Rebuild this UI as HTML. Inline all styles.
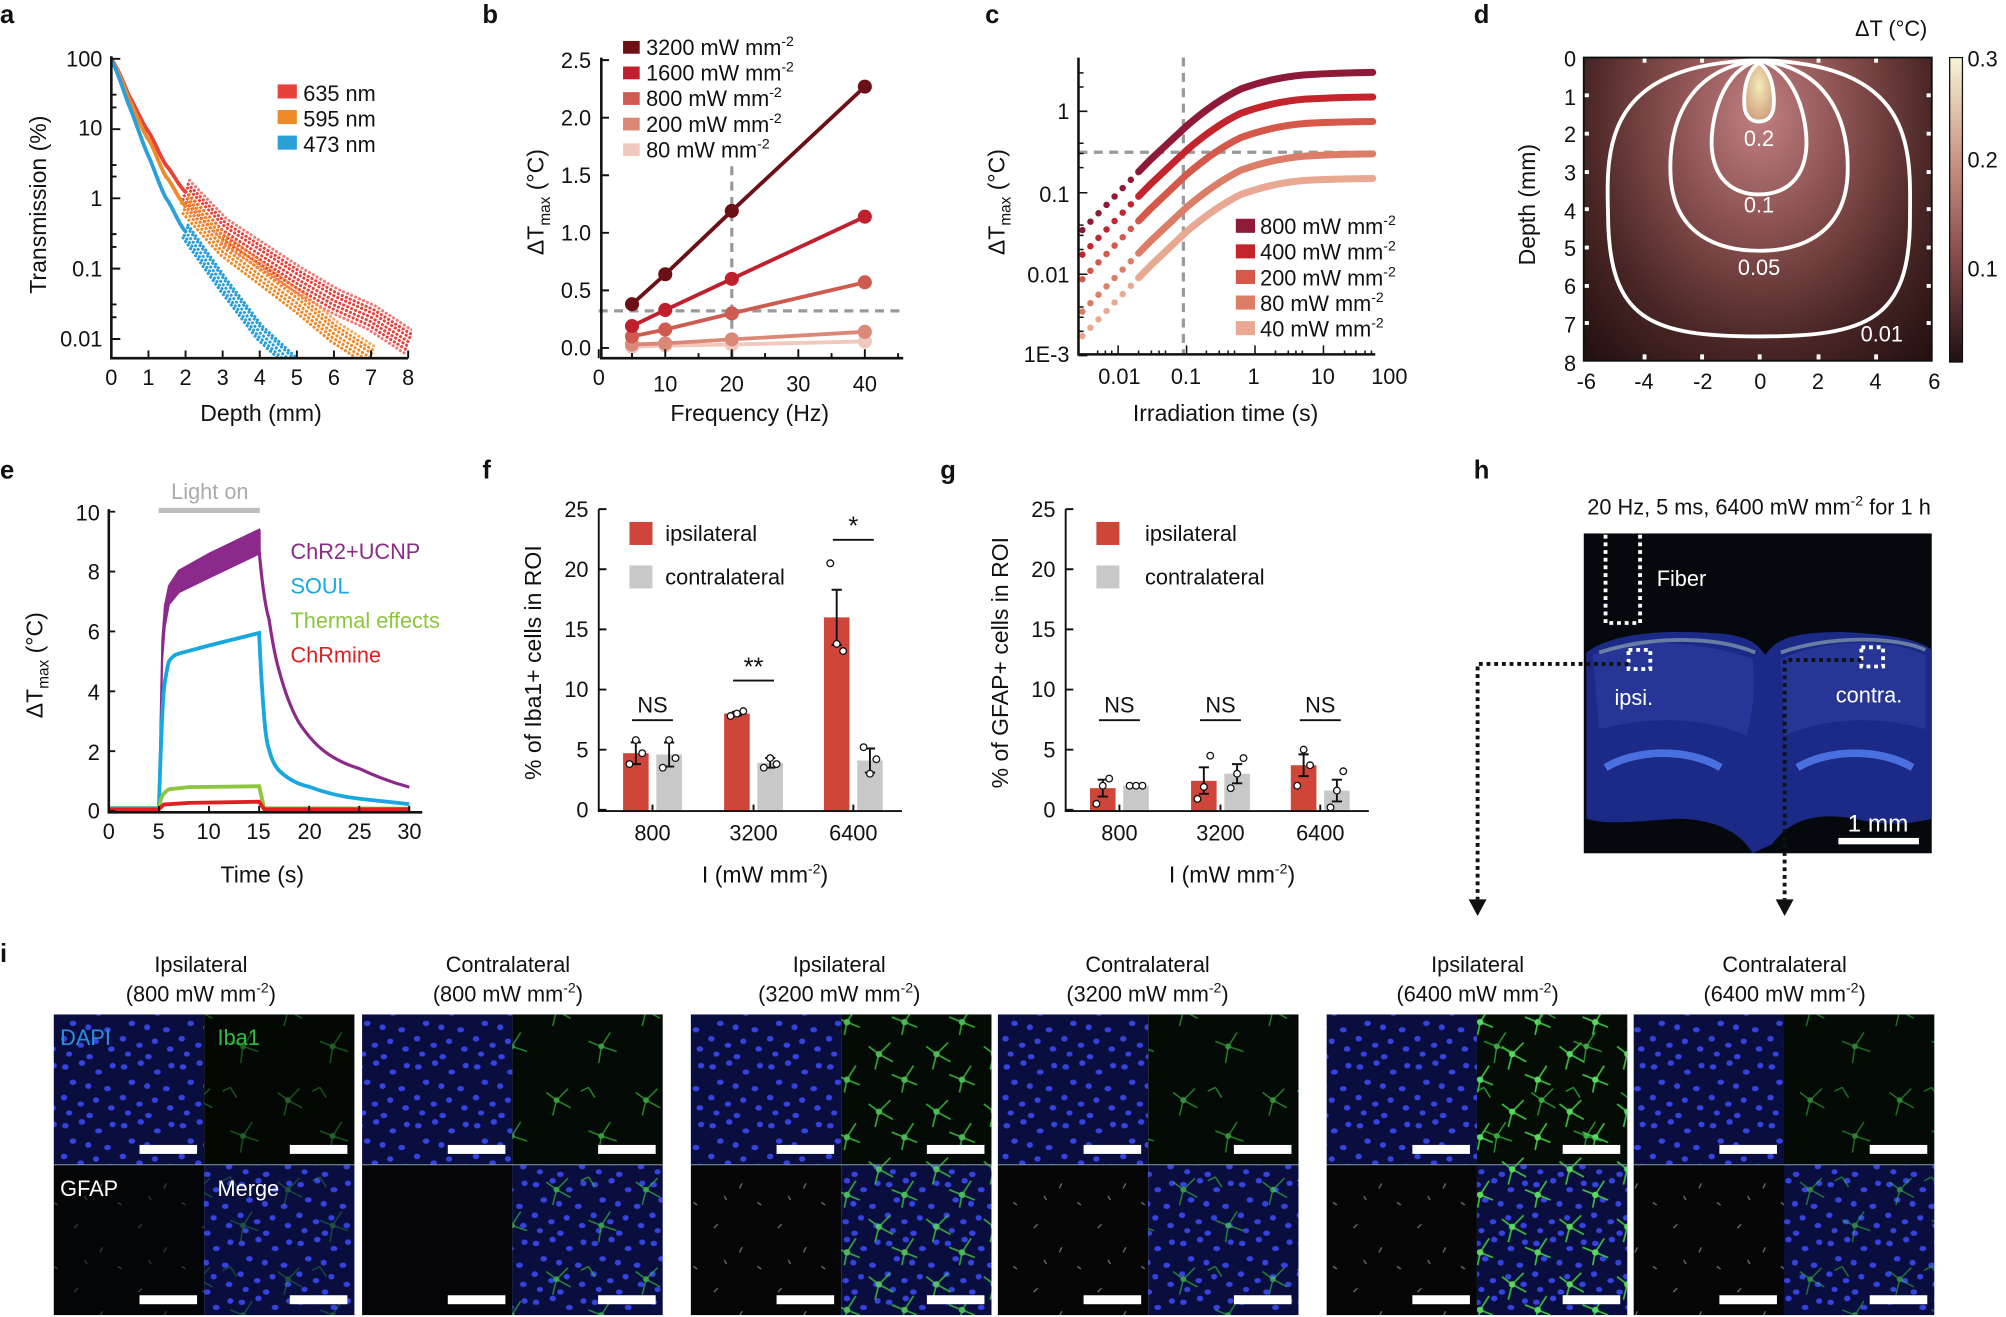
<!DOCTYPE html>
<html><head><meta charset="utf-8"><style>
html,body{margin:0;padding:0;background:#fff;}
svg{display:block;font-family:"Liberation Sans",Arial,sans-serif;}
</style></head><body>
<svg xmlns="http://www.w3.org/2000/svg" xmlns:xlink="http://www.w3.org/1999/xlink" width="2006" height="1317" viewBox="0 0 1568 1029.5">
<defs>
<radialGradient id="hg" cx="1375" cy="90" r="260" gradientUnits="userSpaceOnUse" gradientTransform="translate(1375 90) scale(0.75 1) translate(-1375 -90)">
<stop offset="0" stop-color="#c08080"/><stop offset="0.35" stop-color="#8a5050"/><stop offset="0.7" stop-color="#4a2626"/><stop offset="1" stop-color="#241010"/></radialGradient>
<radialGradient id="tip" cx="0.5" cy="0.4" r="0.6"><stop offset="0" stop-color="#f4ecb8"/><stop offset="1" stop-color="#d0a080"/></radialGradient>
<linearGradient id="cb" x1="0" y1="1" x2="0" y2="0"><stop offset="0" stop-color="#201010"/><stop offset="0.35" stop-color="#8a4c4c"/><stop offset="0.65" stop-color="#c89080"/><stop offset="1" stop-color="#f8f4d8"/></linearGradient>
<clipPath id="clipa"><rect x="87" y="40" width="235" height="240"/></clipPath>
<path id="ra" d="M145 150 L174 180 L203 199 L232 218 L261 235 L290 248 L319 267"/>
<path id="oa" d="M145 161 L174 193 L203 215 L232 237 L261 261 L290 280"/>
<path id="ba" d="M145 181 L174 222 L203 260 L229 284"/>
<pattern id="dapi" width="46" height="46" patternUnits="userSpaceOnUse">
<rect width="46" height="46" fill="#0a0e3e"/>
<g fill="#3444e0"><ellipse cx="5" cy="6" rx="2.6" ry="2.1"/><ellipse cx="18" cy="3" rx="2.5" ry="2.2"/><ellipse cx="31" cy="10" rx="2.7" ry="2"/><ellipse cx="42" cy="5" rx="2.4" ry="2.2"/><ellipse cx="11" cy="18" rx="2.6" ry="2.1"/><ellipse cx="23" cy="21" rx="2.4" ry="2.3"/><ellipse cx="38" cy="23" rx="2.7" ry="2"/><ellipse cx="4" cy="30" rx="2.5" ry="2.2"/><ellipse cx="17" cy="35" rx="2.6" ry="2"/><ellipse cx="29" cy="32" rx="2.4" ry="2.2"/><ellipse cx="41" cy="38" rx="2.6" ry="2.1"/><ellipse cx="8" cy="42" rx="2.4" ry="2"/><ellipse cx="24" cy="44" rx="2.6" ry="2.1"/></g>
</pattern>
<pattern id="iba" width="70" height="70" patternUnits="userSpaceOnUse">
<g stroke="#34b83c" stroke-width="1.1" fill="none"><path d="M15 20l-8 -6M15 20l9 -9M15 20l-3 12M15 20l11 6"/><path d="M50 48l-10 -4M50 48l7 -11M50 48l-2 13M50 48l12 4"/><path d="M40 10l5 8M40 10l-6 3"/></g>
<circle cx="15" cy="20" r="2.3" fill="#4ad050"/><circle cx="50" cy="48" r="2.3" fill="#4ad050"/>
</pattern>
<pattern id="iba2" width="45" height="45" patternUnits="userSpaceOnUse">
<g stroke="#3cc040" stroke-width="1.3" fill="none"><path d="M12 14l-8 -6M12 14l9 -9M12 14l-3 12M12 14l11 6"/><path d="M32 34l-10 -4M32 34l7 -11M32 34l-2 10M32 34l10 4"/></g>
<circle cx="12" cy="14" r="2.5" fill="#5ad860"/><circle cx="32" cy="34" r="2.5" fill="#5ad860"/>
</pattern>
<pattern id="gfap" width="50" height="50" patternUnits="userSpaceOnUse">
<g stroke="#bbb" stroke-width="1" fill="none" opacity="0.6"><path d="M8 10l3 -3M30 25l-2 4M42 40l3 2M18 38l-2 -3"/></g>
</pattern>
</defs>
<g font-size="18" fill="#111">
<g font-weight="bold" font-size="20">
<text x="0" y="18">a</text><text x="377" y="18">b</text><text x="770" y="18">c</text><text x="1152" y="18">d</text>
<text x="0" y="374">e</text><text x="377" y="374">f</text><text x="735" y="374">g</text><text x="1152" y="374">h</text><text x="0" y="752">i</text>
</g>

<!-- Panel a -->
<g clip-path="url(#clipa)" fill="none" stroke-linecap="round">
<path d="M87 46 C95 58 98 70 101.5 76 S112 98 116 103 S126 125 130.5 130 S140 146 145 150" stroke="#e8413c" stroke-width="3"/>
<g stroke="#e8413c" stroke-width="2.4" stroke-dasharray="0.1 3.3">
<use xlink:href="#ra"/><use xlink:href="#ra" transform="translate(1.5,-3)"/><use xlink:href="#ra" transform="translate(-1,3)"/><use xlink:href="#ra" transform="translate(2,-6)"/><use xlink:href="#ra" transform="translate(-2,6)"/><use xlink:href="#ra" transform="translate(3,-9)" opacity="0.7"/><use xlink:href="#ra" transform="translate(-3,9)" opacity="0.7"/>
</g>
<path d="M87 46 C95 60 98 72 101.5 79 S112 104 116 109 S126 134 130.5 139 S140 157 145 161" stroke="#ef8a2a" stroke-width="3"/>
<g stroke="#ef8a2a" stroke-width="2.4" stroke-dasharray="0.1 3.3">
<use xlink:href="#oa"/><use xlink:href="#oa" transform="translate(1.5,-3)"/><use xlink:href="#oa" transform="translate(-1,3)"/><use xlink:href="#oa" transform="translate(2,-6)"/><use xlink:href="#oa" transform="translate(-2,6)"/><use xlink:href="#oa" transform="translate(3,-9)" opacity="0.7"/>
</g>
<path d="M87 46 C95 64 98 76 101.5 84 S112 114 116 122 S126 150 130.5 156 S140 176 145 181" stroke="#2a9fd8" stroke-width="3"/>
<g stroke="#2a9fd8" stroke-width="2.4" stroke-dasharray="0.1 3.3">
<use xlink:href="#ba"/><use xlink:href="#ba" transform="translate(1.5,-3)"/><use xlink:href="#ba" transform="translate(-1,3)"/><use xlink:href="#ba" transform="translate(2,-5)"/><use xlink:href="#ba" transform="translate(-2,5)"/>
</g>
</g>
<g stroke="#111" stroke-width="2" fill="none"><path d="M87 44V280H319"/></g>
<g stroke="#111" stroke-width="1.5"><path d="M87 280v-6M116 280v-6M145 280v-6M174 280v-6M203 280v-6M232 280v-6M261 280v-6M290 280v-6M319 280v-6M87 46h7M87 101h7M87 155h7M87 210h7M87 265h7M87 84h4M87 74h4M87 138h4M87 129h4M87 193h4M87 183h4M87 248h4M87 238h4"/></g>
<g text-anchor="end" font-size="17"><text x="80" y="52">100</text><text x="80" y="106">10</text><text x="80" y="161">1</text><text x="80" y="216">0.1</text><text x="80" y="271">0.01</text></g>
<g text-anchor="middle" font-size="17"><text x="87" y="301">0</text><text x="116" y="301">1</text><text x="145" y="301">2</text><text x="174" y="301">3</text><text x="203" y="301">4</text><text x="232" y="301">5</text><text x="261" y="301">6</text><text x="290" y="301">7</text><text x="319" y="301">8</text></g>
<text transform="translate(36 160) rotate(-90)" text-anchor="middle" font-size="18">Transmission (%)</text>
<text x="204" y="329" text-anchor="middle">Depth (mm)</text>
<rect x="217" y="66" width="15" height="11" fill="#e8413c"/><text x="237" y="79" font-size="17">635 nm</text>
<rect x="217" y="86" width="15" height="11" fill="#ef8a2a"/><text x="237" y="99" font-size="17">595 nm</text>
<rect x="217" y="106" width="15" height="11" fill="#2a9fd8"/><text x="237" y="119" font-size="17">473 nm</text>

<!-- Panel b -->
<g stroke="#999" stroke-width="2.5" stroke-dasharray="7 5" fill="none"><path d="M572 130V280"/><path d="M468 243H706"/></g>
<g fill="none" stroke-width="3">
<polyline points="494,271.1 520,270.2 572,269.3 676,266.9" stroke="#f0c8bc"/>
<polyline points="494,269.3 520,268.4 572,265.3 676,259.4" stroke="#dc8878"/>
<polyline points="494,263 520,257.6 572,245 676,220.7" stroke="#cf5a50"/>
<polyline points="494,254.9 520,242.3 572,218 676,169.4" stroke="#c0202e"/>
<polyline points="494,237.8 520,214.4 572,164.9 676,67.7" stroke="#6b1014"/>
</g>
<g fill="#f0c8bc"><circle cx="494" cy="271.1" r="5.5"/><circle cx="520" cy="270.2" r="5.5"/><circle cx="572" cy="269.3" r="5.5"/><circle cx="676" cy="266.9" r="5.5"/></g>
<g fill="#dc8878"><circle cx="494" cy="269.3" r="5.5"/><circle cx="520" cy="268.4" r="5.5"/><circle cx="572" cy="265.3" r="5.5"/><circle cx="676" cy="259.4" r="5.5"/></g>
<g fill="#cf5a50"><circle cx="494" cy="263" r="5.5"/><circle cx="520" cy="257.6" r="5.5"/><circle cx="572" cy="245" r="5.5"/><circle cx="676" cy="220.7" r="5.5"/></g>
<g fill="#c0202e"><circle cx="494" cy="254.9" r="5.5"/><circle cx="520" cy="242.3" r="5.5"/><circle cx="572" cy="218" r="5.5"/><circle cx="676" cy="169.4" r="5.5"/></g>
<g fill="#6b1014"><circle cx="494" cy="237.8" r="5.5"/><circle cx="520" cy="214.4" r="5.5"/><circle cx="572" cy="164.9" r="5.5"/><circle cx="676" cy="67.7" r="5.5"/></g>
<g stroke="#111" stroke-width="2" fill="none"><path d="M470 45V280H706"/></g>
<g stroke="#111" stroke-width="1.5"><path d="M468 280v-7M494 280v-4M520 280v-7M546 280v-4M572 280v-7M598 280v-4M624 280v-7M650 280v-4M676 280v-7M702 280v-4M470 272h6M470 227h6M470 182h6M470 137h6M470 92h6M470 47h6"/></g>
<g text-anchor="end" font-size="17"><text x="462" y="53">2.5</text><text x="462" y="98">2.0</text><text x="462" y="143">1.5</text><text x="462" y="188">1.0</text><text x="462" y="233">0.5</text><text x="462" y="278">0.0</text></g>
<g text-anchor="middle" font-size="17"><text x="468" y="301">0</text><text x="520" y="306">10</text><text x="572" y="306">20</text><text x="624" y="306">30</text><text x="676" y="306">40</text></g>
<text transform="translate(425 158) rotate(-90)" text-anchor="middle">ΔT<tspan font-size="12" dy="5">max</tspan><tspan dy="-5"> (°C)</tspan></text>
<text x="586" y="329" text-anchor="middle">Frequency (Hz)</text>
<g font-size="17">
<rect x="487" y="32" width="13" height="10" fill="#6b1014"/><text x="505" y="43">3200 mW mm<tspan font-size="11" dy="-7">-2</tspan></text>
<rect x="487" y="52" width="13" height="10" fill="#c0202e"/><text x="505" y="63">1600 mW mm<tspan font-size="11" dy="-7">-2</tspan></text>
<rect x="487" y="72" width="13" height="10" fill="#cf5a50"/><text x="505" y="83">800 mW mm<tspan font-size="11" dy="-7">-2</tspan></text>
<rect x="487" y="92" width="13" height="10" fill="#dc8878"/><text x="505" y="103">200 mW mm<tspan font-size="11" dy="-7">-2</tspan></text>
<rect x="487" y="112" width="13" height="10" fill="#f0c8bc"/><text x="505" y="123">80 mW mm<tspan font-size="11" dy="-7">-2</tspan></text>
</g>

<!-- Panel c -->
<g stroke="#999" stroke-width="2.5" stroke-dasharray="7 5" fill="none"><path d="M925 45V277"/><path d="M843 119H1075"/></g>
<g fill="none" stroke-linecap="round">
<g stroke-width="5" stroke-dasharray="0.1 9">
<polyline points="846,262.8 874,233.6 890,217.2" stroke="#e8a892"/>
<polyline points="846,243.6 874,214.4 890,198" stroke="#dc7d68"/>
<polyline points="846,218.3 874,189.1 890,172.7" stroke="#d5584a"/>
<polyline points="846,199.1 874,169.9 890,153.5" stroke="#c4242c"/>
<polyline points="846,179.9 874,150.7 890,134.3" stroke="#8e1a38"/>
</g>
<g stroke-width="5.5">
<path d="M890 217.2 L899.5 207.5 L927.5 181 Q950 162 970 152 Q995 143 1020 141 Q1045 139.7 1073 139.5" stroke="#e8a892"/>
<path d="M890 198 L899.5 188.3 L927.5 162 Q950 143 970 133 Q995 124 1020 122 Q1045 120.5 1073 120.3" stroke="#dc7d68"/>
<path d="M890 172.7 L899.5 163 L927.5 136.5 Q950 117 970 107.5 Q995 98.5 1020 96.5 Q1045 95.2 1073 95" stroke="#d5584a"/>
<path d="M890 153.5 L899.5 143.8 L927.5 117.5 Q950 98 970 88.5 Q995 79.5 1020 77.5 Q1045 76 1073 75.8" stroke="#c4242c"/>
<path d="M890 134.3 L899.5 124.6 L927.5 98.5 Q950 79 970 69.5 Q995 60.5 1020 58.5 Q1045 57 1073 56.6" stroke="#8e1a38"/>
</g></g>
<g stroke="#111" stroke-width="2" fill="none"><path d="M843 45V277H1075"/></g>
<g stroke="#111" stroke-width="1.2"><path d="M874 277v-7M927.5 277v-7M981 277v-7M1034.5 277v-7M858 277v-3M864 277v-3M869 277v-3M890 277v-3M900 277v-3M906 277v-3M911 277v-3M943 277v-3M953 277v-3M960 277v-3M965 277v-3M997 277v-3M1007 277v-3M1013 277v-3M1018 277v-3M1051 277v-3M1060 277v-3M1067 277v-3M1072 277v-3M843 87h7M843 150.7h7M843 214.4h7M843 278h7M843 68h4M843 57h4M843 131h4M843 120h4M843 112h4M843 195h4M843 184h4M843 176h4M843 259h4M843 248h4M843 240h4"/></g>
<g text-anchor="end" font-size="17"><text x="836" y="93">1</text><text x="836" y="158">0.1</text><text x="836" y="221">0.01</text><text x="836" y="283">1E-3</text></g>
<g text-anchor="middle" font-size="17"><text x="875" y="300">0.01</text><text x="927" y="300">0.1</text><text x="980" y="300">1</text><text x="1034" y="300">10</text><text x="1086" y="300">100</text></g>
<text transform="translate(785 158) rotate(-90)" text-anchor="middle">ΔT<tspan font-size="12" dy="5">max</tspan><tspan dy="-5"> (°C)</tspan></text>
<text x="958" y="329" text-anchor="middle">Irradiation time (s)</text>
<g font-size="17">
<rect x="966" y="171" width="15" height="11" fill="#8e1a38"/><text x="985" y="183">800 mW mm<tspan font-size="11" dy="-7">-2</tspan></text>
<rect x="966" y="191" width="15" height="11" fill="#c4242c"/><text x="985" y="203">400 mW mm<tspan font-size="11" dy="-7">-2</tspan></text>
<rect x="966" y="211" width="15" height="11" fill="#d5584a"/><text x="985" y="223">200 mW mm<tspan font-size="11" dy="-7">-2</tspan></text>
<rect x="966" y="231" width="15" height="11" fill="#dc7d68"/><text x="985" y="243">80 mW mm<tspan font-size="11" dy="-7">-2</tspan></text>
<rect x="966" y="251" width="15" height="11" fill="#e8a892"/><text x="985" y="263">40 mW mm<tspan font-size="11" dy="-7">-2</tspan></text>
</g>

<!-- Panel d -->
<rect x="1238" y="45" width="272" height="237" fill="url(#hg)"/>
<g stroke="#fff" stroke-width="3" fill="none">
<path d="M1375 47 C1250 50 1256 120 1257 170 C1258 250 1290 263 1375 263 C1460 263 1493 250 1493 170 C1493 120 1500 50 1375 47Z"/>
<path d="M1375 47 C1310 55 1304 110 1306 140 C1310 185 1345 196 1375 196 C1405 196 1440 185 1444 140 C1446 110 1440 55 1375 47Z"/>
<path d="M1375 47 C1345 55 1337 95 1338 115 C1340 145 1360 152 1375 152 C1390 152 1410 145 1412 115 C1413 95 1405 55 1375 47Z"/>
</g>
<path d="M1375 49 C1362 58 1363 80 1364 86 C1366 93 1370 95 1375 95 C1380 95 1384 93 1386 86 C1387 80 1388 58 1375 49Z" fill="url(#tip)" stroke="#fff" stroke-width="3"/>
<g fill="#fff" font-size="17" text-anchor="middle"><text x="1375" y="114">0.2</text><text x="1375" y="166">0.1</text><text x="1375" y="215">0.05</text><text x="1471" y="267">0.01</text></g>
<g fill="#fff"><rect x="1284" y="45" width="3" height="4"/><rect x="1329" y="45" width="3" height="4"/><rect x="1374" y="45" width="3" height="4"/><rect x="1420" y="45" width="3" height="4"/><rect x="1465" y="45" width="3" height="4"/>
<rect x="1284" y="277" width="3" height="4"/><rect x="1329" y="277" width="3" height="4"/><rect x="1374" y="277" width="3" height="4"/><rect x="1420" y="277" width="3" height="4"/><rect x="1465" y="277" width="3" height="4"/>
<rect x="1238" y="73" width="4" height="3"/><rect x="1238" y="103" width="4" height="3"/><rect x="1238" y="133" width="4" height="3"/><rect x="1238" y="162" width="4" height="3"/><rect x="1238" y="192" width="4" height="3"/><rect x="1238" y="222" width="4" height="3"/><rect x="1238" y="251" width="4" height="3"/>
<rect x="1506" y="73" width="4" height="3"/><rect x="1506" y="103" width="4" height="3"/><rect x="1506" y="133" width="4" height="3"/><rect x="1506" y="162" width="4" height="3"/><rect x="1506" y="192" width="4" height="3"/><rect x="1506" y="222" width="4" height="3"/><rect x="1506" y="251" width="4" height="3"/></g>
<rect x="1238" y="45" width="272" height="237" fill="none" stroke="#111" stroke-width="1.5"/>
<g text-anchor="end" font-size="17"><text x="1232" y="52">0</text><text x="1232" y="82">1</text><text x="1232" y="111">2</text><text x="1232" y="141">3</text><text x="1232" y="171">4</text><text x="1232" y="200">5</text><text x="1232" y="230">6</text><text x="1232" y="260">7</text><text x="1232" y="290">8</text></g>
<g text-anchor="middle" font-size="17"><text x="1240" y="304">-6</text><text x="1285" y="304">-4</text><text x="1331" y="304">-2</text><text x="1376" y="304">0</text><text x="1421" y="304">2</text><text x="1466" y="304">4</text><text x="1512" y="304">6</text></g>
<text transform="translate(1200 160) rotate(-90)" text-anchor="middle">Depth (mm)</text>
<rect x="1524" y="45" width="10" height="238" fill="url(#cb)" stroke="#111" stroke-width="1"/>
<g font-size="17"><text x="1538" y="52">0.3</text><text x="1538" y="131">0.2</text><text x="1538" y="216">0.1</text></g>
<text x="1450" y="28" font-size="17">ΔT (°C)</text>

<!-- Panel e -->
<path d="M124.2 631.7 L125.5 560 L126.8 500 L128.8 473.5 L132 458 L139.8 446 L163.3 432.8 L202.5 414 L202.5 432.8 L163.3 451.5 L139.8 463 L132 472.5 L128.8 489.6 L126.8 515 L125.5 570 L124.2 631.7Z" fill="#8b2a8a" stroke="#8b2a8a" stroke-width="1.5"/>
<g fill="none" stroke-width="2.5">
<path d="M85 631.7 L124.2 631.7 M202.5 414 L202.5 430 Q206 470 210.3 484.2 Q214 510 218.2 524.5 Q225 550 233.8 565.2 Q245 582 257.3 590 Q268 597 280.8 600.8 Q300 610 319.9 615.3" stroke="#8b2a8a"/>
<path d="M85 631.7 L124.2 631.7 Q125 600 126.9 557 Q128 535 129.6 528.7 Q131 520 132 517 Q135 512 139.8 510.9 L163.3 504.6 L202.5 494.8 Q204 530 206.4 560 Q208 580 210.3 586 Q213 597 218.2 602.4 Q228 612 241.6 615 Q260 622 280.8 624.4 L319.9 628.6" stroke="#18a8e0" stroke-width="3"/>
<path d="M85 632.1 L124.2 632.1 Q126 622 128.1 620.4 Q130 618 132 617 L147.6 615.3 L202.5 614.6 L206.4 631.7 L319.9 632.1" stroke="#8cc63e" stroke-width="3"/>
<path d="M85 632.6 L124.2 632.6 L128.1 628.9 L147.6 627.6 L202.5 626.7 L206.4 632.6 L319.9 632.6" stroke="#e02020" stroke-width="3"/>
</g>
<g stroke="#111" stroke-width="2" fill="none"><path d="M85 398V635H330"/></g>
<g stroke="#111" stroke-width="1.5"><path d="M85 635v-5M124.2 635v-5M163.3 635v-5M202.5 635v-5M241.6 635v-5M280.8 635v-5M319.9 635v-5M85 634h5M85 587.2h5M85 540.4h5M85 493.6h5M85 446.8h5M85 400h5"/></g>
<g text-anchor="end" font-size="17"><text x="78" y="407">10</text><text x="78" y="453">8</text><text x="78" y="500">6</text><text x="78" y="547">4</text><text x="78" y="594">2</text><text x="78" y="640">0</text></g>
<g text-anchor="middle" font-size="17"><text x="85" y="656">0</text><text x="124" y="656">5</text><text x="163" y="656">10</text><text x="202" y="656">15</text><text x="242" y="656">20</text><text x="281" y="656">25</text><text x="320" y="656">30</text></g>
<text transform="translate(33 520) rotate(-90)" text-anchor="middle">ΔT<tspan font-size="12" dy="5">max</tspan><tspan dy="-5"> (°C)</tspan></text>
<text x="205" y="690" text-anchor="middle">Time (s)</text>
<text x="164" y="390" text-anchor="middle" fill="#aaa" font-size="17">Light on</text>
<rect x="124" y="397" width="79" height="4" fill="#bbb"/>
<g font-size="17"><text x="227" y="437" fill="#8b2a8a">ChR2+UCNP</text><text x="227" y="464" fill="#18a8e0">SOUL</text><text x="227" y="491" fill="#8cc63e">Thermal effects</text><text x="227" y="518" fill="#e02020">ChRmine</text></g>

<!-- Panel f -->
<g>
<rect x="487" y="588.8" width="20" height="45.2" fill="#d0453a"/><rect x="513" y="589.8" width="20" height="44.2" fill="#c8c8c8"/>
<rect x="566" y="557.8" width="20" height="76.2" fill="#d0453a"/><rect x="592" y="596.3" width="20" height="37.7" fill="#c8c8c8"/>
<rect x="644" y="482.6" width="20" height="151.4" fill="#d0453a"/><rect x="670" y="594.5" width="20" height="39.5" fill="#c8c8c8"/>
<g stroke="#111" stroke-width="1.5" fill="none">
<path d="M497 580.3V597.3M493 580.3h8M493 597.3h8M523 580.4V599.2M519 580.4h8M519 599.2h8M576 556.4V559.2M572 556.4h8M572 559.2h8M602 592.5V600.1M598 592.5h8M598 600.1h8M654 461V504.2M650 461h8M650 504.2h8M680 585.1V603.9M676 585.1h8M676 603.9h8"/>
<path d="M468 398V634H705"/><path d="M468 633h6M468 586h6M468 539h6M468 492h6M468 445h6M468 398h6M510 634v-5M589 634v-5M667 634v-5"/>
<path d="M494 563h32M573 532h32M651 422h32"/>
</g>
<g fill="#fff" stroke="#111" stroke-width="1"><circle cx="492" cy="597.3" r="2.6"/><circle cx="497" cy="578.5" r="2.6"/><circle cx="502" cy="588.8" r="2.6"/><circle cx="518" cy="600.1" r="2.6"/><circle cx="523" cy="578.5" r="2.6"/><circle cx="528" cy="592.6" r="2.6"/><circle cx="571" cy="559.7" r="2.6"/><circle cx="576" cy="557.8" r="2.6"/><circle cx="581" cy="555.9" r="2.6"/><circle cx="597" cy="600.1" r="2.6"/><circle cx="602" cy="592.6" r="2.6"/><circle cx="607" cy="597.3" r="2.6"/><circle cx="649" cy="440.3" r="2.6"/><circle cx="654" cy="503.3" r="2.6"/><circle cx="659" cy="508.9" r="2.6"/><circle cx="675" cy="584.1" r="2.6"/><circle cx="680" cy="604.8" r="2.6"/><circle cx="685" cy="593.5" r="2.6"/></g>
<g text-anchor="end" font-size="17"><text x="460" y="639">0</text><text x="460" y="592">5</text><text x="460" y="545">10</text><text x="460" y="498">15</text><text x="460" y="451">20</text><text x="460" y="404">25</text></g>
<g text-anchor="middle" font-size="17"><text x="510" y="657">800</text><text x="589" y="657">3200</text><text x="667" y="657">6400</text><text x="510" y="557">NS</text><text x="589" y="528" font-size="20">**</text><text x="667" y="418" font-size="20">*</text></g>
<rect x="492" y="408" width="18" height="18" fill="#d0453a"/><text x="520" y="423" font-size="17">ipsilateral</text>
<rect x="492" y="442" width="18" height="18" fill="#c8c8c8"/><text x="520" y="457" font-size="17">contralateral</text>
<text x="598" y="690" text-anchor="middle">I (mW mm<tspan font-size="11" dy="-7">-2</tspan><tspan dy="7">)</tspan></text>
<text transform="translate(423 518) rotate(-90)" text-anchor="middle">% of Iba1+ cells in ROI</text>
</g>

<!-- Panel g -->
<g>
<rect x="852" y="616.1" width="20" height="17.9" fill="#d0453a"/><rect x="878" y="614.2" width="20" height="19.8" fill="#c8c8c8"/>
<rect x="931" y="610.4" width="20" height="23.6" fill="#d0453a"/><rect x="957" y="604.8" width="20" height="29.2" fill="#c8c8c8"/>
<rect x="1009" y="598.2" width="20" height="35.8" fill="#d0453a"/><rect x="1035" y="618" width="20" height="16" fill="#c8c8c8"/>
<g stroke="#111" stroke-width="1.5" fill="none">
<path d="M862 609.5V622.7M858 609.5h8M858 622.7h8M941 599.8V620.5M937 599.8h8M937 620.5h8M967 597.3V612.3M963 597.3h8M963 612.3h8M1019 589.7V606.7M1015 589.7h8M1015 606.7h8M1045 609.5V626.5M1041 609.5h8M1041 626.5h8"/>
<path d="M833 398V634H1070"/><path d="M833 633h6M833 586h6M833 539h6M833 492h6M833 445h6M833 398h6M875 634v-5M954 634v-5M1032 634v-5"/>
<path d="M859 563h32M938 563h32M1016 563h32"/>
</g>
<g fill="#fff" stroke="#111" stroke-width="1"><circle cx="857" cy="628.3" r="2.6"/><circle cx="862" cy="614.2" r="2.6"/><circle cx="867" cy="608.6" r="2.6"/><circle cx="883" cy="614.2" r="2.6"/><circle cx="888" cy="614.2" r="2.6"/><circle cx="893" cy="614.2" r="2.6"/><circle cx="936" cy="624.5" r="2.6"/><circle cx="941" cy="615.1" r="2.6"/><circle cx="946" cy="590.7" r="2.6"/><circle cx="962" cy="616.1" r="2.6"/><circle cx="967" cy="604.8" r="2.6"/><circle cx="972" cy="592.6" r="2.6"/><circle cx="1014" cy="614.2" r="2.6"/><circle cx="1019" cy="586" r="2.6"/><circle cx="1024" cy="598.2" r="2.6"/><circle cx="1040" cy="631.1" r="2.6"/><circle cx="1045" cy="618" r="2.6"/><circle cx="1050" cy="602.9" r="2.6"/></g>
<g text-anchor="end" font-size="17"><text x="825" y="639">0</text><text x="825" y="592">5</text><text x="825" y="545">10</text><text x="825" y="498">15</text><text x="825" y="451">20</text><text x="825" y="404">25</text></g>
<g text-anchor="middle" font-size="17"><text x="875" y="657">800</text><text x="954" y="657">3200</text><text x="1032" y="657">6400</text><text x="875" y="557">NS</text><text x="954" y="557">NS</text><text x="1032" y="557">NS</text></g>
<rect x="857" y="408" width="18" height="18" fill="#d0453a"/><text x="895" y="423" font-size="17">ipsilateral</text>
<rect x="857" y="442" width="18" height="18" fill="#c8c8c8"/><text x="895" y="457" font-size="17">contralateral</text>
<text x="963" y="690" text-anchor="middle">I (mW mm<tspan font-size="11" dy="-7">-2</tspan><tspan dy="7">)</tspan></text>
<text transform="translate(788 518) rotate(-90)" text-anchor="middle">% of GFAP+ cells in ROI</text>
</g>

<!-- Panel h -->
<text x="1375" y="402" text-anchor="middle" font-size="17">20 Hz, 5 ms, 6400 mW mm<tspan font-size="11" dy="-7">-2</tspan><tspan dy="7"> for 1 h</tspan></text>
<rect x="1238" y="417" width="272" height="250" fill="#05080c"/>
<path d="M1240 510 C1260 495 1300 492 1340 495 C1360 496 1372 500 1380 512 C1388 500 1400 494 1440 494 C1480 496 1500 500 1510 508 L1510 640 C1490 645 1470 645 1450 640 C1420 635 1400 640 1385 660 L1370 667 C1360 650 1340 640 1310 640 C1280 642 1255 645 1240 640Z" fill="#1b2a86"/>
<path d="M1245 512 C1270 500 1320 498 1370 515 C1372 540 1370 560 1365 575 C1330 560 1290 560 1250 570Z" fill="#2a3a9a" opacity="0.8"/>
<path d="M1392 515 C1430 498 1480 500 1505 512 L1505 570 C1470 560 1430 560 1395 575Z" fill="#2a3a9a" opacity="0.8"/>
<path d="M1255 600 C1280 585 1320 585 1345 600" stroke="#4a70e0" stroke-width="6" fill="none"/>
<path d="M1405 600 C1430 585 1470 585 1495 600" stroke="#4a70e0" stroke-width="6" fill="none"/>
<path d="M1250 510 C1290 497 1340 497 1372 510" stroke="#8aa0b0" stroke-width="3" fill="none" opacity="0.7"/>
<path d="M1392 510 C1430 497 1480 497 1505 508" stroke="#8aa0b0" stroke-width="3" fill="none" opacity="0.7"/>
<g stroke="#fff" stroke-width="3" stroke-dasharray="3 3" fill="none">
<path d="M1255 418V487H1282V418"/>
<rect x="1273" y="508" width="17" height="15"/><rect x="1455" y="506" width="17" height="15"/>
</g>
<g fill="#fff" font-size="17"><text x="1295" y="458">Fiber</text><text x="1262" y="551">ipsi.</text><text x="1435" y="549">contra.</text><text x="1468" y="650" text-anchor="middle" font-size="19">1 mm</text></g>
<rect x="1437" y="655" width="63" height="5" fill="#fff"/>
<g stroke="#111" stroke-width="3" stroke-dasharray="3 3" fill="none"><path d="M1273 519H1155V703"/><path d="M1455 516H1395V703"/></g>
<path d="M1148 703h14l-7 13z M1388 703h14l-7 13z" fill="#111"/>

<!-- Panel i -->
<g text-anchor="middle" font-size="17">
<text x="157" y="760">Ipsilateral</text><text x="157" y="783">(800 mW mm<tspan font-size="11" dy="-7">-2</tspan><tspan dy="7">)</tspan></text>
<text x="397" y="760">Contralateral</text><text x="397" y="783">(800 mW mm<tspan font-size="11" dy="-7">-2</tspan><tspan dy="7">)</tspan></text>
<text x="656" y="760">Ipsilateral</text><text x="656" y="783">(3200 mW mm<tspan font-size="11" dy="-7">-2</tspan><tspan dy="7">)</tspan></text>
<text x="897" y="760">Contralateral</text><text x="897" y="783">(3200 mW mm<tspan font-size="11" dy="-7">-2</tspan><tspan dy="7">)</tspan></text>
<text x="1155" y="760">Ipsilateral</text><text x="1155" y="783">(6400 mW mm<tspan font-size="11" dy="-7">-2</tspan><tspan dy="7">)</tspan></text>
<text x="1395" y="760">Contralateral</text><text x="1395" y="783">(6400 mW mm<tspan font-size="11" dy="-7">-2</tspan><tspan dy="7">)</tspan></text>
</g>
<g>
<rect x="42" y="793" width="117.5" height="117.5" fill="url(#dapi)"/>
<rect x="159.5" y="793" width="117.5" height="117.5" fill="#030804"/><rect x="159.5" y="793" width="117.5" height="117.5" fill="url(#iba)" opacity="0.45"/>
<rect x="42" y="910.5" width="117.5" height="117.5" fill="#040506"/><rect x="42" y="910.5" width="117.5" height="117.5" fill="url(#gfap)" opacity="0.5"/>
<rect x="159.5" y="910.5" width="117.5" height="117.5" fill="url(#dapi)"/><rect x="159.5" y="910.5" width="117.5" height="117.5" fill="url(#iba)" opacity="0.35"/>

<rect x="283" y="793" width="117.5" height="117.5" fill="url(#dapi)"/>
<rect x="400.5" y="793" width="117.5" height="117.5" fill="#040a05"/><rect x="400.5" y="793" width="117.5" height="117.5" fill="url(#iba)" opacity="0.75"/>
<rect x="283" y="910.5" width="117.5" height="117.5" fill="#050406"/>
<rect x="400.5" y="910.5" width="117.5" height="117.5" fill="url(#dapi)"/><rect x="400.5" y="910.5" width="117.5" height="117.5" fill="url(#iba)" opacity="0.75"/>

<rect x="540" y="793" width="117.5" height="117.5" fill="url(#dapi)"/>
<rect x="657.5" y="793" width="117.5" height="117.5" fill="#040a05"/><rect x="657.5" y="793" width="117.5" height="117.5" fill="url(#iba2)" opacity="0.85"/>
<rect x="540" y="910.5" width="117.5" height="117.5" fill="#060606"/><rect x="540" y="910.5" width="117.5" height="117.5" fill="url(#gfap)"/>
<rect x="657.5" y="910.5" width="117.5" height="117.5" fill="url(#dapi)"/><rect x="657.5" y="910.5" width="117.5" height="117.5" fill="url(#iba2)" opacity="0.85"/>

<rect x="780" y="793" width="117.5" height="117.5" fill="url(#dapi)"/>
<rect x="897.5" y="793" width="117.5" height="117.5" fill="#040a05"/><rect x="897.5" y="793" width="117.5" height="117.5" fill="url(#iba)" opacity="0.7"/>
<rect x="780" y="910.5" width="117.5" height="117.5" fill="#060606"/><rect x="780" y="910.5" width="117.5" height="117.5" fill="url(#gfap)"/>
<rect x="897.5" y="910.5" width="117.5" height="117.5" fill="url(#dapi)"/><rect x="897.5" y="910.5" width="117.5" height="117.5" fill="url(#iba)" opacity="0.7"/>

<rect x="1037" y="793" width="117.5" height="117.5" fill="url(#dapi)"/>
<rect x="1154.5" y="793" width="117.5" height="117.5" fill="#050c06"/><rect x="1154.5" y="793" width="117.5" height="117.5" fill="url(#iba2)"/><rect x="1154.5" y="793" width="117.5" height="117.5" fill="url(#iba)" opacity="0.8"/>
<rect x="1037" y="910.5" width="117.5" height="117.5" fill="#060606"/><rect x="1037" y="910.5" width="117.5" height="117.5" fill="url(#gfap)"/>
<rect x="1154.5" y="910.5" width="117.5" height="117.5" fill="url(#dapi)"/><rect x="1154.5" y="910.5" width="117.5" height="117.5" fill="url(#iba2)"/>

<rect x="1277" y="793" width="117.5" height="117.5" fill="url(#dapi)"/>
<rect x="1394.5" y="793" width="117.5" height="117.5" fill="#040a05"/><rect x="1394.5" y="793" width="117.5" height="117.5" fill="url(#iba)" opacity="0.6"/>
<rect x="1277" y="910.5" width="117.5" height="117.5" fill="#060606"/><rect x="1277" y="910.5" width="117.5" height="117.5" fill="url(#gfap)"/>
<rect x="1394.5" y="910.5" width="117.5" height="117.5" fill="url(#dapi)"/><rect x="1394.5" y="910.5" width="117.5" height="117.5" fill="url(#iba)" opacity="0.6"/>
</g>
<g stroke="#8899aa" stroke-width="0.8"><path d="M42 910.5h235M283 910.5h235M540 910.5h235M780 910.5h235M1037 910.5h235M1277 910.5h235"/></g>
<g fill="#fff">
<rect x="109" y="895" width="45" height="7"/><rect x="226.5" y="895" width="45" height="7"/><rect x="109" y="1012.5" width="45" height="7"/><rect x="226.5" y="1012.5" width="45" height="7"/>
<rect x="350" y="895" width="45" height="7"/><rect x="467.5" y="895" width="45" height="7"/><rect x="350" y="1012.5" width="45" height="7"/><rect x="467.5" y="1012.5" width="45" height="7"/>
<rect x="607" y="895" width="45" height="7"/><rect x="724.5" y="895" width="45" height="7"/><rect x="607" y="1012.5" width="45" height="7"/><rect x="724.5" y="1012.5" width="45" height="7"/>
<rect x="847" y="895" width="45" height="7"/><rect x="964.5" y="895" width="45" height="7"/><rect x="847" y="1012.5" width="45" height="7"/><rect x="964.5" y="1012.5" width="45" height="7"/>
<rect x="1104" y="895" width="45" height="7"/><rect x="1221.5" y="895" width="45" height="7"/><rect x="1104" y="1012.5" width="45" height="7"/><rect x="1221.5" y="1012.5" width="45" height="7"/>
<rect x="1344" y="895" width="45" height="7"/><rect x="1461.5" y="895" width="45" height="7"/><rect x="1344" y="1012.5" width="45" height="7"/><rect x="1461.5" y="1012.5" width="45" height="7"/>
</g>
<text x="47" y="817" fill="#2a8fe0" font-size="17">DAPI</text><text x="170" y="817" fill="#30c040" font-size="17">Iba1</text>
<text x="47" y="935" fill="#fff" font-size="17">GFAP</text><text x="170" y="935" fill="#fff" font-size="17">Merge</text>
</g>
</svg>
</body></html>
